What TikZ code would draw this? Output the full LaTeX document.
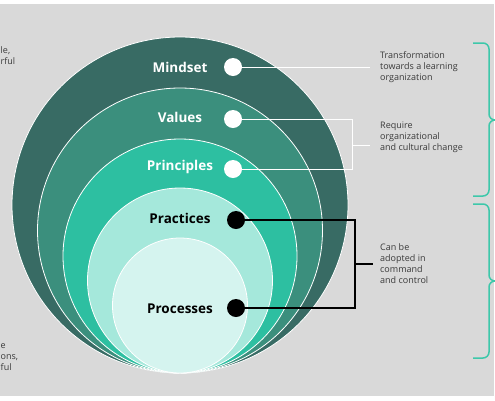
\documentclass[tikz,border=0pt]{standalone}
\usepackage{fontspec}
\setmainfont{Open Sans}
\usetikzlibrary{positioning}
\definecolor{panelgray}{HTML}{D9D9D9}
\definecolor{mindsetgreen}{HTML}{386B64}
\definecolor{valuesgreen}{HTML}{3B8F7D}
\definecolor{principlesgreen}{HTML}{2DBFA1}
\definecolor{practicesgreen}{HTML}{A5E8DB}
\definecolor{processesgreen}{HTML}{D5F4EF}
\definecolor{bracegreen}{HTML}{3DC8AA}
\definecolor{notegray}{HTML}{3A3A3A}

\begin{document}
\begin{tikzpicture}[x=1pt,y=-1pt,
		ring/.style={circle,draw=white,line width=0.8pt,inner sep=0pt},
		tag/.style={font=\fontsize{13.5}{15}\selectfont\bfseries},
		wdot/.style={circle,fill=white,inner sep=0pt,minimum size=18pt},
		bdot/.style={circle,fill=black,inner sep=0pt,minimum size=18pt},
		note/.style={align=left,anchor=west,text=notegray,inner sep=0pt,
			font=\fontsize{9}{11}\selectfont},
		wlink/.style={draw=white,line width=1pt},
		blink/.style={draw=black,line width=1.2pt},
		brace/.style={draw=bracegreen,line width=1.5pt,rounded corners=6pt}
	]
	\useasboundingbox (0,0) rectangle (495,400);
	\clip (0,0) rectangle (495,400);
	\fill[panelgray] (0,4) rectangle (494,396);

	% nested circles, all touching at the bottom
	\node[ring,fill=mindsetgreen,minimum size=336pt] (mindset) at (180,205) {};
	\node[ring,fill=valuesgreen,minimum size=285pt] (values) at (180,230.5) {};
	\node[ring,fill=principlesgreen,minimum size=234pt] (principles) at (180,256) {};
	\node[ring,fill=practicesgreen,minimum size=185pt] (practices) at (180,280.5) {};
	\node[ring,fill=processesgreen,minimum size=135pt] (processes) at (180,305.5) {};

	\node[tag,text=white] (mindsetlabel) at (180,67) {Mindset};
	\node[tag,text=white] (valueslabel) at (180,117) {Values};
	\node[tag,text=white] (principleslabel) at (180,167) {Principles};
	\node[tag,text=black] (practiceslabel) at (180,218) {Practices};
	\node[tag,text=black] (processeslabel) at (180,309) {Processes};

	\node[wdot] (mindsetdot) at (233,67) {};
	\node[wdot] (valuesdot) at (233,119) {};
	\node[wdot] (principlesdot) at (233,169) {};
	\node[bdot] (practicesdot) at (236,220) {};
	\node[bdot] (processesdot) at (236,308) {};

	% connectors out to the notes
	\coordinate (mindsetend) at (370,67);
	\coordinate (valuesjoin) at (352,145);
	\coordinate (valuesend) at (370,145);
	\coordinate (practicesjoin) at (355,264);
	\coordinate (practicesend) at (373,264);
	\draw[wlink] (mindsetdot) -- (mindsetend);
	\draw[wlink] (valuesdot) -| (valuesjoin);
	\draw[wlink] (principlesdot) -| (valuesjoin);
	\draw[wlink] (valuesjoin) -- (valuesend);
	\draw[blink] (practicesdot) -| (practicesjoin);
	\draw[blink] (processesdot) -| (practicesjoin);
	\draw[blink] (practicesjoin) -- (practicesend);

	\node[note] (mindsetnote) at (380,67) {Transformation\\towards a learning\\organization};
	\node[note] (valuesnote) at (380,137) {Require\\organizational\\and cultural change};
	\node[note] (practicesnote) at (380,263.5) {Can be\\adopted in\\command\\and control};

	% text fragments on the left edge
	\node[note] (topcut) at (0.5,55.5) {le,\\rful};
	\node[note] (bottomcut) at (0.5,357) {e\\ons,\\ful};

	% braces on the right edge
	\draw[brace] (473,43) -- (489,43) -- (489,120) -- (498,120);
	\draw[brace] (473,196) -- (489,196) -- (489,120) -- (498,120);
	\draw[brace] (473,204) -- (489,204) -- (489,281) -- (498,281);
	\draw[brace] (473,358) -- (489,358) -- (489,281) -- (498,281);

\end{tikzpicture}
\end{document}
